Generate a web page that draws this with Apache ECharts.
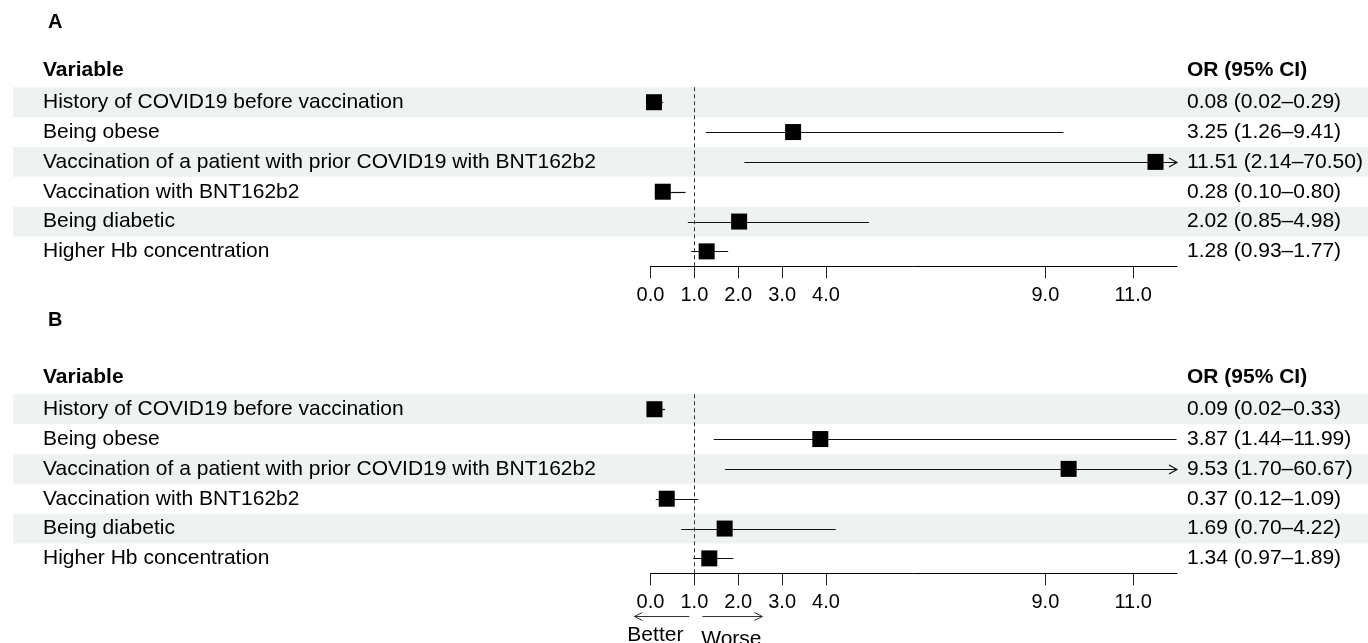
<!DOCTYPE html>
<html><head><meta charset="utf-8">
<script src="https://cdn.jsdelivr.net/npm/echarts@6/dist/echarts.min.js"></script>
<style>html,body{margin:0;padding:0;background:#fff}#c{width:1368px;height:643px}</style>
</head><body><div id="c"></div>
<script>
// ---- data ----
const variables = [
  'History of COVID19 before vaccination',
  'Being obese',
  'Vaccination of a patient with prior COVID19 with BNT162b2',
  'Vaccination with BNT162b2',
  'Being diabetic',
  'Higher Hb concentration'
];
const orA = [0.08, 3.25, 11.51, 0.28, 2.02, 1.28];
const loA = [0.02, 1.26, 2.14, 0.10, 0.85, 0.93];
const hiA = [0.29, 9.41, 70.50, 0.80, 4.98, 1.77];
const orB = [0.09, 3.87, 9.53, 0.37, 1.69, 1.34];
const loB = [0.02, 1.44, 1.70, 0.12, 0.70, 0.97];
const hiB = [0.33, 11.99, 60.67, 1.09, 4.22, 1.89];
const tickValues = [0, 1, 2, 3, 4, 9, 11];
const xMin = 0, xMax = 12, refValue = 1;
const panelLabels = ['A', 'B'];
const headerLeft = 'Variable', headerRight = 'OR (95% CI)';
const arrowLabels = ['Better', 'Worse'];

// ---- layout ----
const FONT = "'Liberation Sans', Arial, Helvetica, sans-serif";
const gridLeft = 650.5, gridWidth = 526.5, gridHeight = 179;
const gridTops = [87.3, 394.3];
const textLeft = 43, orLeft = 1187;
const bandColor = '#EEF2F1';
const FS = 21;

function fmt(v){ return v.toFixed(2); }
function orLabels(or, lo, hi){ return or.map((v,i)=>fmt(v)+' ('+fmt(lo[i])+'\u2013'+fmt(hi[i])+')'); }
const panels = [
  {or: orA, lo: loA, hi: hiA},
  {or: orB, lo: loB, hi: hiB}
];

const chart = echarts.init(document.getElementById('c'), null, {renderer: 'canvas'});

const grids = [], xAxes = [], yAxes = [], series = [];
panels.forEach((p, k) => {
  grids.push({left: gridLeft, top: gridTops[k], width: gridWidth, height: gridHeight,
    containLabel: false, outerBoundsMode: 'none'});
  xAxes.push({
    type: 'value', gridIndex: k, min: xMin, max: xMax, z: 10,
    axisLine: {show: true, onZero: false, lineStyle: {color: '#000', width: 1}},
    axisTick: {show: true, length: 12, customValues: tickValues, lineStyle: {color: '#222', width: 1}},
    axisLabel: {show: true, customValues: tickValues, formatter: v => Number(v).toFixed(1),
      fontSize: 20, color: '#000', fontFamily: FONT, margin: 19},
    splitLine: {show: false}
  });
  yAxes.push({
    type: 'category', gridIndex: k, data: variables, inverse: true, z: 10,
    axisLine: {show: false}, axisTick: {show: false}, splitLine: {show: false},
    axisLabel: {align: 'left', margin: gridLeft - textLeft, fontSize: FS, color: '#000', fontFamily: FONT}
  });
  yAxes.push({
    type: 'category', gridIndex: k, position: 'right', data: orLabels(p.or, p.lo, p.hi), inverse: true, z: 10,
    axisLine: {show: false}, axisTick: {show: false}, splitLine: {show: false},
    axisLabel: {align: 'left', margin: orLeft - (gridLeft + gridWidth), fontSize: FS, color: '#000', fontFamily: FONT}
  });
  // shaded row bands
  series.push({
    type: 'custom', xAxisIndex: k, yAxisIndex: 2*k, z: -5, silent: true, clip: false,
    data: variables.map((v,i)=>[0, i]).filter(d => d[1] % 2 === 0),
    encode: {x: 0, y: 1},
    renderItem: (params, api) => {
      const y = api.coord([0, api.value(1)])[1];
      const h = api.size([0, 1])[1];
      return {type: 'rect', shape: {x: 13, y: y - h/2, width: 1368 - 13, height: h},
        style: {fill: bandColor}};
    }
  });
  // CI lines and boxes, with the reference line
  series.push({
    type: 'custom', xAxisIndex: k, yAxisIndex: 2*k, z: 5, silent: true, clip: false,
    data: p.or.map((v,i)=>[v, i, p.lo[i], p.hi[i]]),
    encode: {x: 0, y: 1},
    renderItem: (params, api) => {
      const yy = api.coord([0, api.value(1)])[1];
      const y = Math.round(yy) + 0.5;
      const lo = api.value(2), hi = api.value(3), or = api.value(0);
      const clipped = hi > xMax;
      const xLo = api.coord([Math.max(lo, xMin), 0])[0];
      const xHi = api.coord([Math.min(hi, xMax), 0])[0];
      const xOr = api.coord([or, 0])[0];
      const children = [
        {type: 'line', shape: {x1: xLo, y1: y, x2: xHi, y2: y}, style: {stroke: '#111', lineWidth: 1.2}}
      ];
      if (clipped) {
        children.push({type: 'polyline', shape: {points: [[xHi - 8, y - 4.5], [xHi, y], [xHi - 8, y + 4.5]]},
          style: {stroke: '#111', lineWidth: 1.2, fill: null}});
      }
      children.push({type: 'rect', shape: {x: xOr - 8, y: yy - 8, width: 16, height: 16}, style: {fill: '#000'}});
      return {type: 'group', children};
    },
    markLine: {
      silent: true, symbol: 'none', label: {show: false}, z: 4,
      lineStyle: {color: '#333', width: 1, type: [4, 3]},
      data: [{xAxis: refValue}]
    }
  });
});

const graphic = [];
panels.forEach((p, k) => {
  const top = gridTops[k];
  graphic.push({type: 'text', left: 48, top: top - (k === 0 ? 75 : 84), style: {text: panelLabels[k],
    font: 'bold 20px ' + FONT, fill: '#000'}});
  graphic.push({type: 'text', x: textLeft, y: top - 17.5, style: {text: headerLeft,
    font: 'bold ' + FS + 'px ' + FONT, fill: '#000', verticalAlign: 'middle', align: 'left'}});
  graphic.push({type: 'text', x: orLeft, y: top - 17.5, style: {text: headerRight,
    font: 'bold ' + FS + 'px ' + FONT, fill: '#000', verticalAlign: 'middle', align: 'left'}});
});

chart.setOption({
  animation: false,
  backgroundColor: '#fff',
  grid: grids, xAxis: xAxes, yAxis: yAxes, series: series, graphic: graphic
});

// Better / Worse arrows under panel B, anchored on the reference value
const xRef = chart.convertToPixel({xAxisIndex: 1}, refValue);
const yArr = 616.5;
const arrowStyle = {stroke: '#333', lineWidth: 1, fill: null};
graphic.push({type: 'line', shape: {x1: xRef - 5, y1: yArr, x2: xRef - 60, y2: yArr}, style: arrowStyle, silent: true});
graphic.push({type: 'polyline', shape: {points: [[xRef - 52, yArr - 4], [xRef - 60, yArr], [xRef - 52, yArr + 4]]}, style: arrowStyle, silent: true});
graphic.push({type: 'line', shape: {x1: xRef + 8, y1: yArr, x2: xRef + 68, y2: yArr}, style: arrowStyle, silent: true});
graphic.push({type: 'polyline', shape: {points: [[xRef + 60, yArr - 4], [xRef + 68, yArr], [xRef + 60, yArr + 4]]}, style: arrowStyle, silent: true});
graphic.push({type: 'text', x: xRef - 39, y: 635, style: {text: arrowLabels[0], font: FS + 'px ' + FONT, fill: '#000', align: 'center', verticalAlign: 'middle'}});
graphic.push({type: 'text', x: xRef + 37, y: 639, style: {text: arrowLabels[1], font: FS + 'px ' + FONT, fill: '#000', align: 'center', verticalAlign: 'middle'}});
chart.setOption({graphic: graphic});
</script></body></html>
